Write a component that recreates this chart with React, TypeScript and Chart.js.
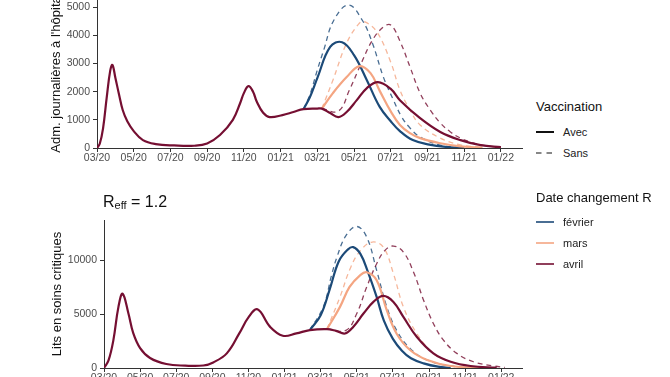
import React, { useEffect, useRef } from "react";
import { Chart, registerables } from "chart.js";

Chart.register(...registerables);

const FONT = "'Liberation Sans', Arial, Helvetica, sans-serif";

// x positions are months since 03/2020
const xTickMonths = [0, 2, 4, 6, 8, 10, 12, 14, 16, 18, 20, 22];
const xTickLabels = ["03/20", "05/20", "07/20", "09/20", "11/20", "01/21", "03/21", "05/21", "07/21", "09/21", "11/21", "01/22"];
const xMax = 23.15;

const topYTicks = [0, 1000, 2000, 3000, 4000, 5000];
const bottomYTicks = [0, 5000, 10000];

const scenarios = ["février", "mars", "avril"];
const vaccLabels = ["Avec", "Sans"];
const solidColors = ["#1c4a78", "#f4a582", "#750f32"];
const dashedColors = ["rgba(28,74,120,0.8)", "rgba(244,165,130,0.8)", "rgba(117,15,50,0.8)"];

// ---- Top panel: Adm. journalières à l'hôpital ----
const topAvrilAvecM = [0, 0.15, 0.33, 0.53, 0.72, 0.84, 1.0, 1.2, 1.4, 1.65, 2.0, 2.5, 3.2, 4.2, 5.3, 6.0, 6.7, 7.4, 7.8, 8.0, 8.25, 8.5, 8.7, 9.05, 9.4, 10.1, 10.7, 11.25, 12.0, 12.25, 12.7, 13.15, 13.6, 14.15, 14.7, 15.3, 16.0, 16.5, 17.6, 18.7, 19.8, 20.9, 22.0];
const topAvrilAvecV = [0, 150, 700, 1800, 2750, 2950, 2500, 1900, 1350, 950, 600, 280, 140, 90, 80, 160, 460, 1000, 1600, 1950, 2200, 2000, 1650, 1250, 1100, 1170, 1280, 1380, 1400, 1400, 1240, 1100, 1280, 1700, 2130, 2340, 2100, 1700, 1060, 570, 280, 100, 30];

const topFevrierAvecM = [11.25, 11.6, 12.0, 12.7, 13.35, 14.0, 14.7, 15.4, 16.0, 16.5, 17.2, 18.1, 19.0, 20.0];
const topFevrierAvecV = [1380, 1810, 2480, 3590, 3760, 3300, 2410, 1460, 950, 600, 280, 120, 40, 5];

const topMarsAvecM = [12.25, 12.85, 13.6, 14.3, 14.9, 15.4, 16.0, 16.5, 17.05, 17.6, 18.7, 19.8, 21.0];
const topMarsAvecV = [1400, 1950, 2520, 2910, 2660, 2030, 1300, 820, 530, 350, 170, 60, 10];

const topFevrierSansM = [11.25, 11.6, 12.0, 12.35, 12.9, 13.7, 14.45, 15.0, 15.6, 16.15, 16.6, 17.05, 17.6, 18.7, 19.6];
const topFevrierSansV = [1380, 1900, 2770, 3480, 4540, 5080, 4540, 3730, 2520, 1700, 1100, 710, 390, 100, 20];

const topMarsSansM = [12.25, 12.85, 13.6, 14.3, 14.6, 15.25, 16.0, 16.5, 17.05, 17.6, 18.7, 19.8, 20.9];
const topMarsSansV = [1400, 2410, 3730, 4440, 4480, 4120, 3050, 2060, 1350, 820, 350, 110, 30];

const topAvrilSansM = [12.25, 13.15, 13.75, 14.4, 15.0, 15.6, 16.0, 16.5, 17.05, 17.6, 18.15, 18.7, 19.25, 19.8, 20.35, 20.9, 22.0];
const topAvrilSansV = [1400, 1310, 2060, 3020, 3830, 4300, 4370, 3800, 2880, 1950, 1350, 890, 570, 350, 210, 110, 20];

// ---- Bottom panel: Lits en soins critiques ----
const botAvrilAvecM = [0, 0.25, 0.52, 0.8, 1.03, 1.35, 1.62, 2.0, 2.55, 3.45, 4.5, 5.5, 6.05, 6.8, 7.5, 8.0, 8.5, 9.2, 9.9, 10.65, 11.4, 12.35, 12.85, 13.35, 13.8, 14.37, 14.92, 15.47, 16.03, 16.58, 17.32, 18.24, 19.2, 20.3, 21.75];
const botAvrilAvecV = [0, 700, 2590, 5680, 6900, 5090, 3240, 1850, 930, 370, 220, 230, 520, 1360, 3240, 4700, 5450, 3820, 3000, 3210, 3520, 3610, 3450, 3210, 3820, 5060, 6140, 6700, 6140, 4750, 2900, 1360, 580, 185, 30];

const botFevrierAvecM = [11.4, 12.0, 12.5, 13.0, 13.5, 13.8, 14.2, 14.6, 15.1, 15.5, 16.0, 16.5, 17.0, 17.7, 18.5, 19.2];
const botFevrierAvecV = [3520, 4900, 7300, 9900, 11000, 11230, 10600, 9000, 6600, 4400, 2700, 1600, 900, 430, 120, 20];

const botMarsAvecM = [12.35, 13.07, 13.6, 14.18, 14.55, 15.1, 15.66, 16.2, 16.95, 17.9, 19.2, 21.0];
const botMarsAvecV = [3610, 5680, 7530, 8610, 8890, 8150, 5370, 3210, 1670, 740, 185, 0];

const botFevrierSansM = [11.4, 12.15, 12.6, 12.9, 13.4, 14.0, 14.55, 15.1, 15.66, 16.2, 16.95, 17.9, 19.2, 20.5];
const botFevrierSansV = [3520, 5700, 8600, 10300, 12300, 13150, 12160, 9070, 5680, 3520, 1820, 740, 185, 0];

const botMarsSansM = [12.35, 13.07, 13.65, 14.2, 14.85, 15.47, 16.03, 16.58, 17.32, 18.24, 19.2, 20.3, 21.5];
const botMarsSansV = [3610, 6600, 9300, 10900, 11700, 11230, 8770, 5680, 3210, 1360, 580, 170, 0];

const botAvrilSansM = [12.35, 13.4, 14.0, 14.55, 15.1, 15.56, 16.03, 16.58, 17.14, 17.7, 18.24, 18.8, 19.54, 20.46, 21.6, 22.2];
const botAvrilSansV = [3610, 3500, 5060, 7530, 9690, 10930, 11330, 10770, 8920, 6300, 4140, 2590, 1360, 580, 185, 50];

type Series = { m: number[]; v: number[] };

const pts = (s: Series) => s.m.map((x, i) => ({ x, y: s.v[i] }));

function makeDatasets(avec: Series[], sans: Series[]) {
  const ds: any[] = [];
  for (const i of [2, 1, 0]) {
    ds.push({
      label: scenarios[i] + " " + vaccLabels[0],
      data: pts(avec[i]),
      borderColor: solidColors[i],
      borderWidth: 2.2,
    });
  }
  for (const i of [2, 1, 0]) {
    ds.push({
      label: scenarios[i] + " " + vaccLabels[1],
      data: pts(sans[i]),
      borderColor: dashedColors[i],
      borderWidth: 1.3,
      borderDash: [5, 4],
    });
  }
  return ds;
}

type PanelProps = {
  top: number;
  height: number;
  padTop: number;
  yAxisWidth: number;
  yMax: number;
  yTicks: number[];
  yTitle: string;
  titlePad: number;
  datasets: any[];
};

function Panel(p: PanelProps) {
  const ref = useRef<HTMLCanvasElement | null>(null);
  useEffect(() => {
    if (!ref.current) return;
    const tickFont = { family: FONT, size: 10.5 };
    const chart = new Chart(ref.current, {
      type: "line",
      data: { datasets: p.datasets },
      options: {
        animation: false,
        responsive: false,
        maintainAspectRatio: false,
        devicePixelRatio: 1,
        layout: { padding: { top: p.padTop, right: 8, bottom: 0, left: 0 } },
        plugins: { legend: { display: false }, tooltip: { enabled: false }, title: { display: false } },
        elements: {
          point: { radius: 0, hoverRadius: 0 },
          line: { tension: 0.4, fill: false, borderCapStyle: "butt", borderJoinStyle: "round" },
        },
        scales: {
          x: {
            type: "linear",
            min: 0,
            max: xMax,
            afterBuildTicks: (s: any) => {
              s.ticks = xTickMonths.map((value) => ({ value }));
            },
            afterFit: (s: any) => {
              s.height = 32;
            },
            ticks: {
              autoSkip: false,
              maxRotation: 0,
              minRotation: 0,
              padding: 0,
              color: "#4d4d4d",
              font: tickFont,
              callback: (v: any) => {
                const idx = xTickMonths.indexOf(Number(v));
                return idx >= 0 ? xTickLabels[idx] : "";
              },
            },
            grid: { drawOnChartArea: false, drawTicks: true, tickLength: 4, tickColor: "#333", tickWidth: 1 },
            border: { display: true, color: "#333", width: 1 },
          },
          y: {
            type: "linear",
            min: 0,
            max: p.yMax,
            afterBuildTicks: (s: any) => {
              s.ticks = p.yTicks.map((value) => ({ value }));
            },
            afterFit: (s: any) => {
              s.width = p.yAxisWidth;
            },
            ticks: {
              padding: 3,
              color: "#4d4d4d",
              font: tickFont,
              callback: (v: any) => String(v),
            },
            title: {
              display: true,
              text: p.yTitle,
              color: "#111",
              font: { family: FONT, size: 13 },
              padding: { top: p.titlePad, bottom: 0 },
            },
            grid: { drawOnChartArea: false, drawTicks: true, tickLength: 4, tickColor: "#333", tickWidth: 1 },
            border: { display: true, color: "#333", width: 1 },
          },
        },
      } as any,
    });
    return () => chart.destroy();
  }, []);
  return (
    <canvas
      ref={ref}
      width={530}
      height={p.height}
      style={{ position: "absolute", left: 0, top: p.top, width: 530, height: p.height, display: "block" }}
    />
  );
}

function KeyLine({ color, width, dash }: { color: string; width: number; dash?: string }) {
  return (
    <svg width={18} height={8} style={{ position: "absolute", left: 0, top: -4 }}>
      <line x1={0} y1={4} x2={18} y2={4} stroke={color} strokeWidth={width} strokeDasharray={dash} />
    </svg>
  );
}

function LegendRow({ y, label, color, width, dash }: { y: number; label: string; color: string; width: number; dash?: string }) {
  return (
    <div style={{ position: "absolute", left: 536, top: y, width: 120, height: 0 }}>
      <KeyLine color={color} width={width} dash={dash} />
      <div style={{ position: "absolute", left: 27, top: -7, fontSize: 11, lineHeight: "14px", color: "#222", whiteSpace: "nowrap" }}>{label}</div>
    </div>
  );
}

export default function App() {
  const topDatasets = makeDatasets(
    [
      { m: topFevrierAvecM, v: topFevrierAvecV },
      { m: topMarsAvecM, v: topMarsAvecV },
      { m: topAvrilAvecM, v: topAvrilAvecV },
    ],
    [
      { m: topFevrierSansM, v: topFevrierSansV },
      { m: topMarsSansM, v: topMarsSansV },
      { m: topAvrilSansM, v: topAvrilSansV },
    ]
  );
  const botDatasets = makeDatasets(
    [
      { m: botFevrierAvecM, v: botFevrierAvecV },
      { m: botMarsAvecM, v: botMarsAvecV },
      { m: botAvrilAvecM, v: botAvrilAvecV },
    ],
    [
      { m: botFevrierSansM, v: botFevrierSansV },
      { m: botMarsSansM, v: botMarsSansV },
      { m: botAvrilSansM, v: botAvrilSansV },
    ]
  );

  return (
    <div
      style={{
        position: "fixed",
        left: 0,
        top: 0,
        width: 670,
        height: 377,
        overflow: "hidden",
        background: "#fff",
        fontFamily: FONT,
      }}
    >
      <Panel
        top={-20}
        height={200}
        padTop={18}
        yAxisWidth={97}
        yMax={5330}
        yTicks={topYTicks}
        yTitle="Adm. journalières à l'hôpital"
        titlePad={49}
        datasets={topDatasets}
      />
      <Panel
        top={190}
        height={210}
        padTop={30}
        yAxisWidth={104}
        yMax={13750}
        yTicks={bottomYTicks}
        yTitle="Lits en soins critiques"
        titlePad={49.7}
        datasets={botDatasets}
      />

      <div style={{ position: "absolute", left: 103, top: 192.5, fontSize: 16, lineHeight: "18px", color: "#111", whiteSpace: "nowrap" }}>
        R<span style={{ fontSize: 11, position: "relative", top: 2 }}>eff</span> = 1.2
      </div>

      <div style={{ position: "absolute", left: 536, top: 99, fontSize: 13, lineHeight: "16px", color: "#111", whiteSpace: "nowrap" }}>Vaccination</div>
      <LegendRow y={132} label={vaccLabels[0]} color="#111" width={2} />
      <LegendRow y={153} label={vaccLabels[1]} color="#111" width={1.2} dash="5.5 5" />

      <div style={{ position: "absolute", left: 536, top: 190, fontSize: 13, lineHeight: "16px", color: "#111", whiteSpace: "nowrap" }}>Date changement R</div>
      <LegendRow y={222} label={scenarios[0]} color={solidColors[0]} width={1.6} />
      <LegendRow y={242.5} label={scenarios[1]} color={solidColors[1]} width={1.6} />
      <LegendRow y={263.5} label={scenarios[2]} color={solidColors[2]} width={1.6} />
    </div>
  );
}
